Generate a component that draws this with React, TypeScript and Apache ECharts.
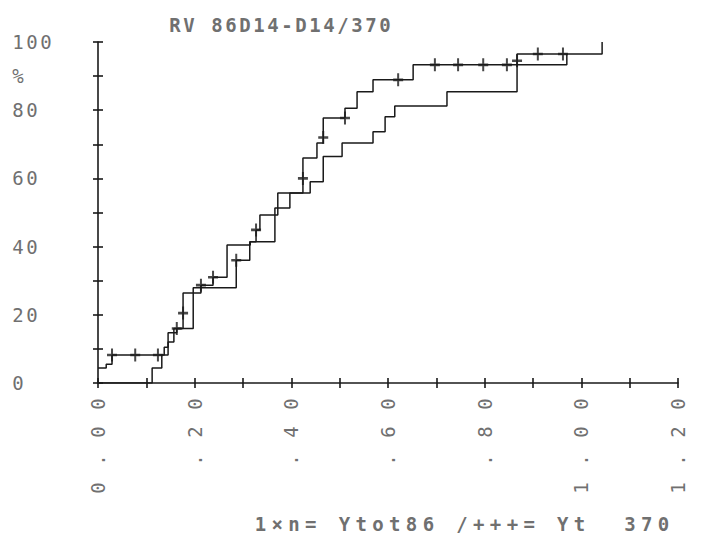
import React, { useEffect, useRef } from "react";
import * as echarts from "echarts";

// Yt 370 (+++), cumulative %, value changes at x
const ytX = [0, 0.017, 0.029, 0.137, 0.145, 0.163, 0.176, 0.213, 0.238, 0.267, 0.315, 0.327, 0.335, 0.372, 0.424, 0.453, 0.466, 0.511, 0.536, 0.569, 0.652, 0.867, 1.043];
const ytY = [4.4, 5.5, 8.2, 10.5, 14.7, 16, 26.4, 28.7, 31, 40.5, 41.4, 44.9, 49.3, 55.7, 66, 70.4, 77.7, 80.6, 85.4, 88.9, 93.3, 96.5, 100];

// Ytot86 (line 1)
const totX = [0, 0.112, 0.132, 0.145, 0.157, 0.197, 0.286, 0.314, 0.366, 0.397, 0.439, 0.466, 0.505, 0.569, 0.594, 0.614, 0.722, 0.867, 0.97];
const totY = [0, 4.4, 8.2, 12, 16, 27.9, 36, 41.4, 51.3, 55.7, 59, 66.4, 70.4, 73.7, 78.1, 81.2, 85.4, 93.3, 96.5];

// censor crosses on the +++ curve
const crossX = [0.029, 0.077, 0.124, 0.163, 0.176, 0.213, 0.238, 0.286, 0.327, 0.424, 0.466, 0.511, 0.621, 0.697, 0.745, 0.797, 0.846, 0.867, 0.91, 0.962];
const crossY = [8.2, 8.2, 8.2, 16, 20.5, 28.7, 31, 36, 44.9, 60, 72, 77.7, 88.9, 93.3, 93.3, 93.3, 93.3, 94.5, 96.5, 96.5];

const xTickLabels = ["0.00", ".20", ".40", ".60", ".80", "1.00", "1.20"];
const yLabelValues = [0, 20, 40, 60, 80, 90, 100];
const yLabelTexts = ["0", "20", "40", "60", "80", "%", "100"];

const titleText = "RV 86D14-D14/370";
const footText = "1×n= Ytot86 /+++= Yt  370";

const FONT = '"DejaVu Sans Mono", "Liberation Mono", monospace';
const TXT = "#707070";
const INK = "#1a1a1a";

const spaced = (s: string) =>
  s
    .split("")
    .map((c) => `{c|${c}}`)
    .join("");

const charStyle = (w: number, size = 19) => ({
  c: {
    width: w,
    align: "center" as const,
    fontFamily: FONT,
    fontSize: size,
    lineHeight: 24,
    color: TXT,
  },
});

export default function App() {
  const ref = useRef<HTMLDivElement>(null);
  useEffect(() => {
    if (!ref.current) return;
    const chart = echarts.init(ref.current, undefined, { renderer: "svg" });
    const axisCommon = {
      type: "value" as const,
      splitLine: { show: false },
    };
    const tickStyle = { color: INK, width: 1.6 };
    chart.setOption({
      animation: false,
      backgroundColor: "#ffffff",
      title: [
        {
          text: spaced(titleText),
          left: 163,
          top: 8,
          textStyle: { rich: charStyle(14) },
        },
        {
          text: spaced(footText),
          left: 247,
          top: 507,
          textStyle: { rich: charStyle(16.8) },
        },
      ],
      grid: { left: 98, top: 42, width: 580, height: 341, containLabel: false },
      xAxis: [
        {
          ...axisCommon,
          min: 0,
          max: 1.2,
          interval: 0.1,
          axisLine: { show: true, lineStyle: { color: INK, width: 1.6 } },
          axisTick: { show: false },
          axisLabel: {
            show: true,
            rotate: 90,
            margin: 7,
            formatter: (v: number) => {
              const k = Math.round(v * 10);
              if (k % 2 !== 0) return "";
              const s = xTickLabels[k / 2];
              return s ? spaced(s) : "";
            },
            rich: charStyle(28),
          },
        },
        {
          ...axisCommon,
          min: 0,
          max: 1.2,
          interval: 0.1,
          position: "bottom",
          offset: -5,
          axisLine: { show: false },
          axisTick: { show: true, length: 10, lineStyle: tickStyle },
          axisLabel: { show: false },
        },
      ],
      yAxis: [
        {
          ...axisCommon,
          min: 0,
          max: 100,
          interval: 10,
          axisLine: { show: true, lineStyle: { color: INK, width: 1.6 } },
          axisTick: { show: false },
          axisLabel: {
            show: true,
            align: "left",
            margin: 87,
            formatter: (v: number) => {
              const i = yLabelValues.indexOf(Math.round(v));
              return i >= 0 ? spaced(yLabelTexts[i]) : "";
            },
            rich: charStyle(14),
          },
        },
        {
          ...axisCommon,
          min: 0,
          max: 100,
          interval: 10,
          position: "left",
          offset: -5,
          axisLine: { show: false },
          axisTick: { show: true, length: 10, lineStyle: tickStyle },
          axisLabel: { show: false },
        },
      ],
      series: [
        {
          name: "Ytot86",
          type: "line",
          step: "end",
          symbol: "none",
          data: totX.map((x, i) => [x, totY[i]]),
          lineStyle: { color: INK, width: 1.5 },
        },
        {
          name: "Yt 370",
          type: "line",
          step: "end",
          symbol: "none",
          data: ytX.map((x, i) => [x, ytY[i]]),
          lineStyle: { color: INK, width: 1.5 },
        },
        {
          name: "censored",
          type: "scatter",
          symbol: "path://M4,0h2v4h4v2h-4v4h-2v-4h-4v-2h4z",
          symbolSize: [10, 13],
          data: crossX.map((x, i) => [x, crossY[i]]),
          itemStyle: { color: INK },
        },
      ],
    });
    return () => chart.dispose();
  }, []);
  return (
    <div
      ref={ref}
      style={{ position: "absolute", left: 0, top: 0, width: 705, height: 551 }}
    />
  );
}
